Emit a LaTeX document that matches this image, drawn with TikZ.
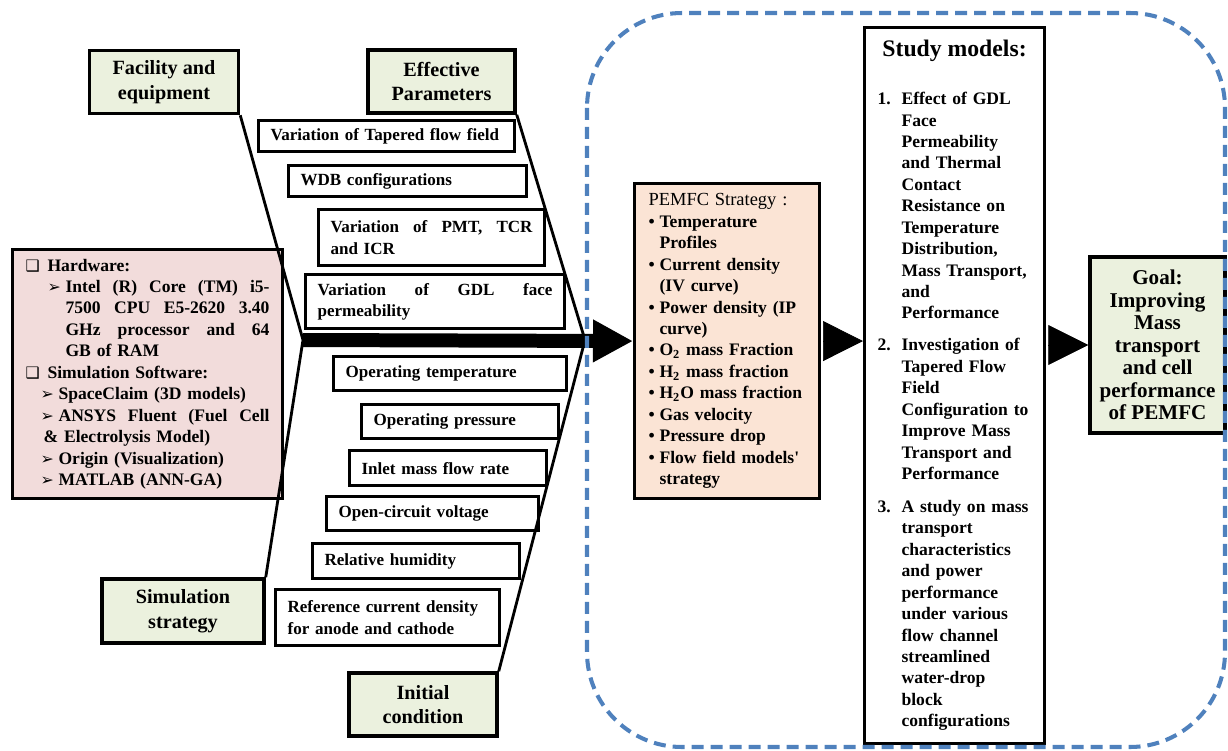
\documentclass[tikz,border=0pt]{standalone}
\usepackage{fontspec}
\setmainfont{Liberation Serif}
\newfontfamily\symfont{DejaVu Sans}
\usetikzlibrary{arrows.meta}
\definecolor{hdrgreen}{HTML}{EBF1DE}
\definecolor{hwpink}{HTML}{F2DCDB}
\definecolor{pempeach}{HTML}{FBE4D5}
\definecolor{dashblue}{HTML}{4F81BD}
\newcommand{\boxsym}{\makebox[0.44cm][l]{\symfont\fontsize{9}{9}\selectfont ❑}}
\newcommand{\arrsym}[1]{\makebox[#1][l]{\symfont\fontsize{9}{9}\selectfont ➢}}
\newcommand{\pbul}{\makebox[0.22cm][l]{\textbullet}}
\newcommand{\pind}{\hspace*{0.22cm}}
\newcommand{\snum}[1]{\makebox[0.48cm][l]{#1}}
\newcommand{\sind}{\hspace*{0.48cm}}
\begin{document}
\begin{tikzpicture}[x=0.02cm, y=-0.02cm, line width=1.6pt,
    hdr/.style={draw, fill=hdrgreen, line width=2pt, align=center, inner sep=0pt,
      font=\fontsize{11.5}{14}\selectfont\bfseries},
    param/.style={draw, fill=white, line width=1.8pt, anchor=north west, align=left,
      inner xsep=0.24cm, inner ysep=0pt, font=\fontsize{9.7}{12}\selectfont\bfseries},
    listbox/.style={draw, line width=1.8pt, anchor=north west, align=left,
      font=\fontsize{10}{12.2}\selectfont\bfseries},
    tip/.style={-{Triangle[length=0.8cm,width=0.8cm]}}]
    \useasboundingbox (0,0) rectangle (1228,751);
    \node[hdr, minimum width=2.98cm, minimum height=1.26cm]
    (fac) at (164,82) {Facility and\\equipment};
    \node[hdr, minimum width=2.94cm, minimum height=1.26cm]
    (eff) at (441.5,81.5) {Effective\\Parameters};
    \node[hdr, minimum width=3.24cm, minimum height=1.28cm]
    (sim) at (183,611) {Simulation\\strategy};
    \node[hdr, minimum width=2.96cm, minimum height=1.26cm]
    (init) at (423,704.5) {Initial\\condition};
    \node[listbox, fill=hwpink, minimum height=4.98cm, inner xsep=0.26cm, text width=4.88cm]
    (hw) at (11,248) {\boxsym Hardware:\\
      \hspace*{0.44cm}\arrsym{0.36cm}\makebox[4.08cm][l]{Intel\hfill(R)\hfill Core\hfill(TM)\hfill i5-}\\
      \hspace*{0.80cm}\makebox[4.08cm][l]{7500\hfill CPU\hfill E5-2620\hfill 3.40}\\
      \hspace*{0.80cm}\makebox[4.08cm][l]{GHz\hfill processor\hfill and\hfill 64}\\
      \hspace*{0.80cm}GB of RAM\\
      \boxsym Simulation Software:\\
      \hspace*{0.30cm}\arrsym{0.36cm}SpaceClaim (3D models)\\
      \hspace*{0.30cm}\arrsym{0.36cm}\makebox[4.22cm][l]{ANSYS\hfill Fluent\hfill (Fuel\hfill Cell}\\
      \hspace*{0.36cm}\& Electrolysis Model)\\
      \hspace*{0.30cm}\arrsym{0.36cm}Origin (Visualization)\\
      \hspace*{0.30cm}\arrsym{0.36cm}MATLAB (ANN-GA)};
    \node[param, minimum height=0.62cm, text width=4.64cm]
    (tap) at (257,119) {Variation of Tapered flow field};
    \node[param, minimum height=0.62cm, text width=4.28cm]
    (wdb) at (287,164) {WDB configurations};
    \node[param, minimum height=1.12cm, text width=4.04cm]
    (pmt) at (317,208) {\makebox[4.04cm][l]{Variation\hfill of\hfill PMT,\hfill TCR}\\and ICR};
    \node[param, minimum height=1.08cm, text width=4.70cm]
    (gdl) at (304,273) {\makebox[4.70cm][l]{Variation\hfill of\hfill GDL\hfill face}\\permeability};
    \node[param, minimum height=0.68cm, text width=4.18cm]
    (optemp) at (332,355) {Operating temperature};
    \node[param, minimum height=0.68cm, text width=3.46cm]
    (oppres) at (360,403) {Operating pressure};
    \node[param, minimum height=0.70cm, text width=3.46cm]
    (inlet) at (348,449) {Inlet mass flow rate};
    \node[param, minimum height=0.68cm, text width=3.76cm]
    (ocv) at (325,495) {Open-circuit voltage};
    \node[param, minimum height=0.70cm, text width=3.66cm]
    (rh) at (311,542) {Relative humidity};
    \node[param, minimum height=1.12cm, text width=4.00cm]
    (refcd) at (274,588) {Reference current density\\for anode and cathode};
    \node[listbox, fill=pempeach, minimum height=6.30cm, inner xsep=0.28cm, text width=3.14cm]
    (pem) at (633,182) {{\mdseries\fontsize{10.5}{12.2}\selectfont PEMFC Strategy :}\\
      \pbul Temperature\\
      \pind Profiles\\
      \pbul Current density\\
      \pind (IV curve)\\
      \pbul Power density (IP\\
      \pind curve)\\
      \pbul O\textsubscript{2} mass Fraction\\
      \pbul H\textsubscript{2} mass fraction\\
      \pbul H\textsubscript{2}O mass fraction\\
      \pbul Gas velocity\\
      \pbul Pressure drop\\
      \pbul Flow field models\textquotesingle\\
      \pind strategy};
    \node[listbox, fill=white, minimum height=14.32cm, inner xsep=0.26cm, text width=3.08cm]
    (study) at (863,26) {\makebox[3.08cm][c]{\fontsize{13.5}{15}\selectfont Study models:}\\[15pt]
      \snum{1.}Effect of GDL\\
      \sind Face\\
      \sind Permeability\\
      \sind and Thermal\\
      \sind Contact\\
      \sind Resistance on\\
      \sind Temperature\\
      \sind Distribution,\\
      \sind Mass Transport,\\
      \sind and\\
      \sind Performance\\[6pt]
      \snum{2.}Investigation of\\
      \sind Tapered Flow\\
      \sind Field\\
      \sind Configuration to\\
      \sind Improve Mass\\
      \sind Transport and\\
      \sind Performance\\[6.5pt]
      \snum{3.}A study on mass\\
      \sind transport\\
      \sind characteristics\\
      \sind and power\\
      \sind performance\\
      \sind under various\\
      \sind flow channel\\
      \sind streamlined\\
      \sind water-drop\\
      \sind block\\
      \sind configurations};
    \node[hdr, minimum width=2.70cm, minimum height=3.52cm, font=\fontsize{12}{12.8}\selectfont\bfseries]
    (goal) at (1157.5,345) {Goal:\\Improving\\Mass\\transport\\and cell\\performance\\of PEMFC};
    \coordinate (jl) at (303,340);
    \coordinate (jr) at (585,340);
    \draw (fac.south east) -- (jl) -- (sim.north east);
    \draw (eff.south east) -- (jr) -- (init.north east);
    \draw[line width=0.28cm, tip] (jl) -- (pem.west);
    \draw[line width=0.4pt, shorten <=0.08cm, tip] (pem.east) -- (pem.east -| study.west);
    \draw[line width=0.4pt, shorten <=0.14cm, tip] (goal.west -| study.east) -- (goal.west);
    \draw[dashblue, line width=2.3pt, dash pattern=on 0.24cm off 0.14cm, rounded corners=1.9cm]
    (587,13) rectangle (1225,747);
\end{tikzpicture}
\end{document}
